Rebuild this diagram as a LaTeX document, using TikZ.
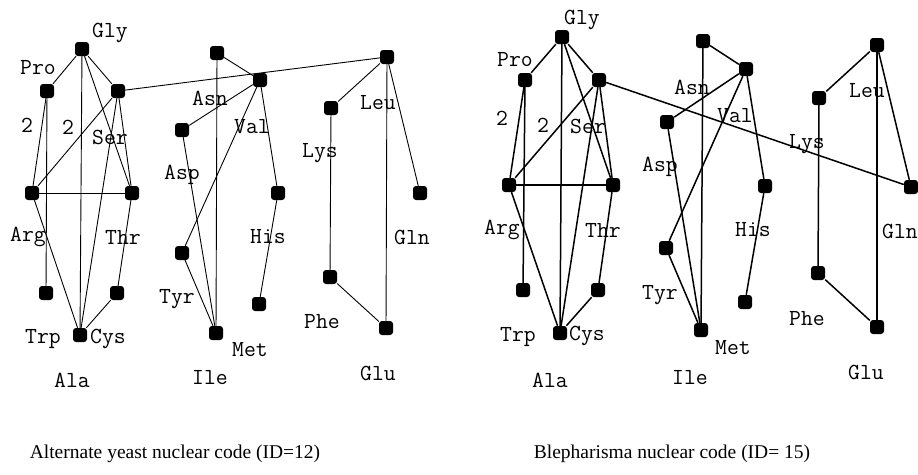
\documentclass[tikz,border=0pt]{standalone}
\usepackage{fontspec}
\setmainfont{Liberation Serif}
\begin{document}
\begin{tikzpicture}[x=1pt,y=-1pt,
  sq/.style={fill=black, rounded corners=3pt, minimum size=14pt, inner sep=0pt},
  lab/.style={font=\ttfamily\fontsize{23}{23}\selectfont, inner sep=0pt},
  captext/.style={font=\fontsize{19.5}{19.5}\selectfont, inner sep=0pt, anchor=base},
  thinedge/.style={line width=0.9pt},
  thickedge/.style={line width=1.5pt}]
\useasboundingbox (0,0) rectangle (918,474);

% ---------- Alternate yeast nuclear code ----------
\node[sq] (glyA) at (82,49) {};
\node[sq] (proA) at (47,91) {};
\node[sq] (serA) at (118,91) {};
\node[sq] (argA) at (32,193) {};
\node[sq] (thrA) at (132,193) {};
\node[sq] (trpA) at (46,293) {};
\node[sq] (thrlA) at (117,293) {};
\node[sq] (cysA) at (80,335) {};
\node[sq] (topA) at (217,53) {};
\node[sq] (valA) at (260,80) {};
\node[sq] (aspA) at (182,130) {};
\node[sq] (hisA) at (278,193) {};
\node[sq] (tyrA) at (182,253) {};
\node[sq] (hislA) at (259,304) {};
\node[sq] (metA) at (216,333) {};
\node[sq] (leuA) at (387,57) {};
\node[sq] (lysA) at (331,108) {};
\node[sq] (glnA) at (420,193) {};
\node[sq] (pheA) at (330,277) {};
\node[sq] (gluA) at (386,328) {};

\foreach \a/\b in {glyA/proA, glyA/serA, glyA/cysA, glyA/thrA,
    serA/argA, serA/cysA, serA/thrA, proA/argA, proA/trpA,
    argA/thrA, argA/cysA, thrA/thrlA, thrlA/cysA, serA/leuA,
    topA/valA, topA/metA, valA/aspA, valA/tyrA, valA/hisA,
    hisA/hislA, aspA/metA, tyrA/metA,
    leuA/lysA, leuA/gluA, leuA/glnA, lysA/pheA, pheA/gluA}
  \draw[thinedge] (\a) -- (\b);

\node[lab] (lGlyA) at (110,33) {Gly};
\node[lab] (lProA) at (38,68) {Pro};
\node[lab] (lSerA) at (110,137) {Ser};
\node[lab] (lTwoA) at (27,125) {2};
\node[lab] (lTwoBA) at (68,127) {2};
\node[lab] (lArgA) at (28,237) {Arg};
\node[lab] (lThrA) at (123,237) {Thr};
\node[lab] (lTrpA) at (43,339) {Trp};
\node[lab] (lCysA) at (108,339) {Cys};
\node[lab] (lAlaA) at (72,380) {Ala};
\node[lab] (lAsnA) at (210,98) {Asn};
\node[lab] (lValA) at (252,127) {Val};
\node[lab] (lAspA) at (182,175) {Asp};
\node[lab] (lHisA) at (268,237) {His};
\node[lab] (lTyrA) at (177,299) {Tyr};
\node[lab] (lMetA) at (250,350) {Met};
\node[lab] (lIleA) at (210,378) {Ile};
\node[lab] (lLeuA) at (378,103) {Leu};
\node[lab] (lLysA) at (320,153) {Lys};
\node[lab] (lGlnA) at (412,237) {Gln};
\node[lab] (lPheA) at (322,322) {Phe};
\node[lab] (lGluA) at (378,373) {Glu};

\node[captext] (capA) at (175,458) {Alternate yeast nuclear code (ID=12)};

% ---------- Blepharisma nuclear code ----------
\node[sq] (glyB) at (562,37) {};
\node[sq] (proB) at (525,80) {};
\node[sq] (serB) at (599,80) {};
\node[sq] (argB) at (509,185) {};
\node[sq] (thrB) at (613,185) {};
\node[sq] (trpB) at (523,290) {};
\node[sq] (thrlB) at (598,290) {};
\node[sq] (cysB) at (560,333) {};
\node[sq] (topB) at (703,41) {};
\node[sq] (valB) at (746,69) {};
\node[sq] (aspB) at (667,122) {};
\node[sq] (hisB) at (765,186) {};
\node[sq] (tyrB) at (666,248) {};
\node[sq] (hislB) at (745,302) {};
\node[sq] (metB) at (701,330) {};
\node[sq] (leuB) at (877,45) {};
\node[sq] (lysB) at (819,98) {};
\node[sq] (glnB) at (911,187) {};
\node[sq] (pheB) at (818,273) {};
\node[sq] (gluB) at (877,327) {};

\foreach \a/\b in {glyB/proB, glyB/serB, glyB/cysB, glyB/thrB,
    serB/argB, serB/cysB, serB/thrB, proB/argB, proB/trpB,
    argB/thrB, argB/cysB, thrB/thrlB, thrlB/cysB, serB/glnB,
    topB/valB, topB/metB, valB/aspB, valB/tyrB, valB/hisB,
    hisB/hislB, aspB/metB, tyrB/metB,
    leuB/lysB, leuB/gluB, leuB/glnB, lysB/pheB, pheB/gluB}
  \draw[thickedge] (\a) -- (\b);

\node[lab] (lGlyB) at (582,20) {Gly};
\node[lab] (lProB) at (515,60) {Pro};
\node[lab] (lSerB) at (588,126) {Ser};
\node[lab] (lTwoB) at (502,118) {2};
\node[lab] (lTwoBB) at (543,125) {2};
\node[lab] (lArgB) at (502,230) {Arg};
\node[lab] (lThrB) at (603,230) {Thr};
\node[lab] (lTrpB) at (518,337) {Trp};
\node[lab] (lCysB) at (587,336) {Cys};
\node[lab] (lAlaB) at (550,380) {Ala};
\node[lab] (lAsnB) at (692,87) {Asn};
\node[lab] (lValB) at (735,116) {Val};
\node[lab] (lAspB) at (660,167) {Asp};
\node[lab] (lHisB) at (753,230) {His};
\node[lab] (lTyrB) at (660,295) {Tyr};
\node[lab] (lMetB) at (733,348) {Met};
\node[lab] (lIleB) at (690,378) {Ile};
\node[lab] (lLeuB) at (867,91) {Leu};
\node[lab] (lLysB) at (807,144) {Lys};
\node[lab] (lGlnB) at (900,231) {Gln};
\node[lab] (lPheB) at (807,319) {Phe};
\node[lab] (lGluB) at (866,372) {Glu};

\node[captext] (capB) at (672,458) {Blepharisma nuclear code (ID= 15)};
\end{tikzpicture}
\end{document}
